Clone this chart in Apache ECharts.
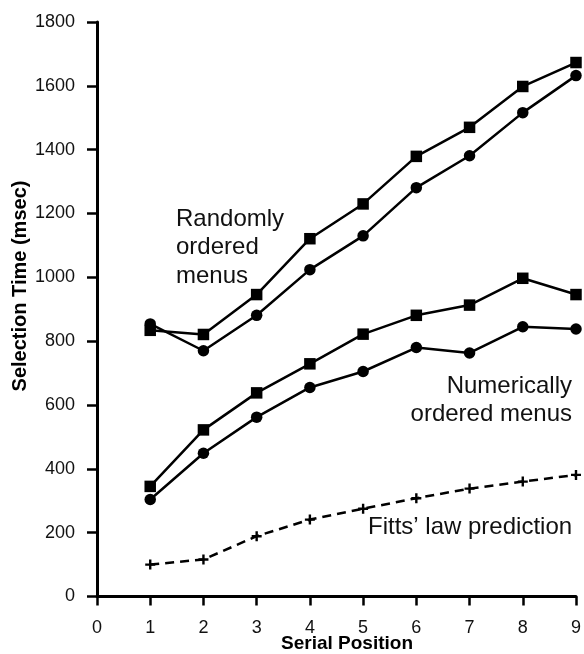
<!DOCTYPE html>
<html>
<head>
<meta charset="utf-8">
<script src="https://cdn.jsdelivr.net/npm/echarts@6/dist/echarts.min.js"></script>
<style>
  html, body { margin: 0; padding: 0; background: #fff; }
  #chart { width: 584px; height: 654px; }
</style>
</head>
<body>
<div id="chart"></div>
<script>
// Serial position of the target item in the menu
var positions = [1, 2, 3, 4, 5, 6, 7, 8, 9];

// Selection times (msec), randomly ordered menus
var randomSquares = [834, 821, 946, 1121, 1230, 1379, 1470, 1598, 1673];
var randomCircles = [854, 770, 881, 1024, 1130, 1281, 1381, 1516, 1632];

// Selection times (msec), numerically ordered menus
var numericSquares = [345, 522, 638, 729, 822, 881, 913, 997, 946];
var numericCircles = [304, 449, 562, 655, 705, 780, 763, 845, 838];

// Fitts' law prediction (msec)
var fittsPrediction = [100, 116, 189, 241, 275, 308, 338, 360, 381];

var FONT = '"Liberation Sans", Arial, Helvetica, sans-serif';
var PLUS = 'path://M0,3.8H10V6.2H0Z M3.8,0H6.2V10H3.8Z';

function pairs(values) {
  return positions.map(function (p, i) { return [p, values[i]]; });
}

function plain(v) { return String(v); }

function solidSeries(values, symbol) {
  return {
    type: 'line',
    data: pairs(values),
    symbol: symbol,
    symbolSize: 11.5,
    showSymbol: true,
    itemStyle: { color: '#000' },
    lineStyle: { color: '#000', width: 2.5 },
    animation: false,
    z: 3
  };
}

var chart = echarts.init(document.getElementById('chart'), null, { renderer: 'canvas' });

var yCommon = { type: 'value', min: 0, max: 1800, interval: 200, splitLine: { show: false } };
var xCommon = { type: 'value', min: 0, max: 9, interval: 1, splitLine: { show: false } };

chart.setOption({
  backgroundColor: '#fff',
  animation: false,
  grid: { left: 97, right: 6, top: 22, bottom: 57.5 },
  xAxis: [
    Object.assign({}, xCommon, {
      position: 'bottom',
      axisLine: { show: true, lineStyle: { color: '#000', width: 3 } },
      axisTick: { show: false },
      axisLabel: { show: false }
    }),
    Object.assign({}, xCommon, {
      position: 'bottom',
      offset: 4,
      axisLine: { show: false },
      axisTick: { show: true, length: 9, lineStyle: { color: '#000', width: 2.5 } },
      axisLabel: { show: true, color: '#111', fontFamily: FONT, fontSize: 18, margin: 19, formatter: plain }
    })
  ],
  yAxis: [
    Object.assign({}, yCommon, {
      position: 'left',
      axisLine: { show: true, lineStyle: { color: '#000', width: 3 } },
      axisTick: { show: false },
      axisLabel: { show: false }
    }),
    Object.assign({}, yCommon, {
      position: 'left',
      offset: 3,
      axisLine: { show: false },
      axisTick: { show: true, length: 10, lineStyle: { color: '#000', width: 2.5 } },
      axisLabel: { show: true, color: '#111', fontFamily: FONT, fontSize: 18, margin: 19, formatter: plain }
    })
  ],
  series: [
    solidSeries(randomSquares, 'rect'),
    solidSeries(randomCircles, 'circle'),
    solidSeries(numericSquares, 'rect'),
    solidSeries(numericCircles, 'circle'),
    {
      type: 'line',
      data: pairs(fittsPrediction),
      symbol: PLUS,
      symbolSize: 10,
      itemStyle: { color: '#000' },
      lineStyle: { color: '#000', width: 2.5, type: [9, 6] },
      animation: false,
      z: 3
    }
  ],
  graphic: [
    {
      type: 'text', left: 176, top: 205,
      style: {
        text: 'Randomly\nordered\nmenus', font: '24px ' + FONT, fill: '#111',
        lineHeight: 28.5, textAlign: 'left'
      }
    },
    {
      type: 'text', right: 12, top: 372,
      style: {
        text: 'Numerically\nordered menus', font: '24px ' + FONT, fill: '#111',
        lineHeight: 28, textAlign: 'right'
      }
    },
    {
      type: 'text', left: 368, top: 515,
      style: { text: 'Fitts\u2019 law prediction', font: '24px ' + FONT, fill: '#111' }
    },
    {
      type: 'text', x: 347, y: 644,
      style: {
        text: 'Serial Position', font: 'bold 19px ' + FONT, fill: '#000',
        textAlign: 'center', textVerticalAlign: 'middle'
      }
    },
    {
      type: 'text', x: 20, y: 286, rotation: Math.PI / 2,
      style: {
        text: 'Selection Time (msec)', font: 'bold 20px ' + FONT, fill: '#000',
        textAlign: 'center', textVerticalAlign: 'middle'
      }
    }
  ]
});
</script>
</body>
</html>
